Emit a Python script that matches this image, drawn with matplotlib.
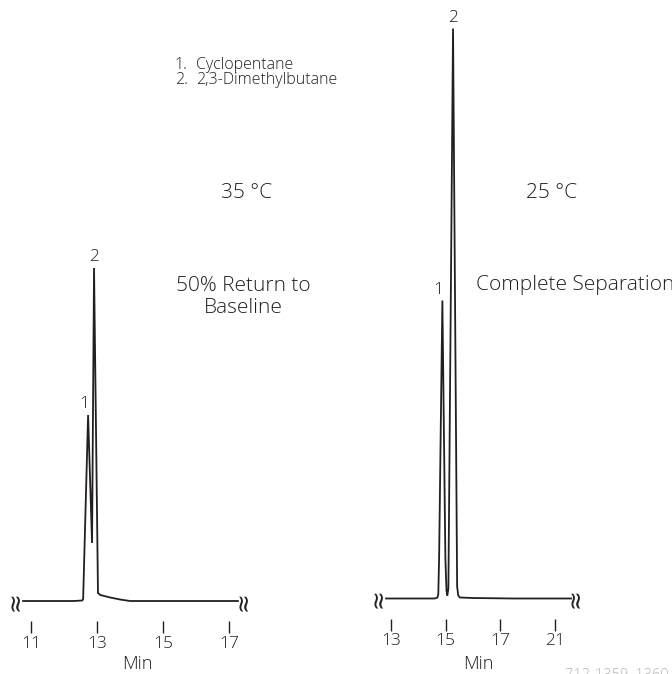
import numpy as np
import matplotlib.pyplot as plt

plt.rcParams['font.family'] = ['Open Sans', 'DejaVu Sans']
plt.rcParams['font.weight'] = 'light'

W, H = 672, 674

# 35 °C run: retention time (min) and detector response
t35 = [10.76, 12.30, 12.55, 12.58, 12.73, 12.85, 12.91, 13.03, 13.10, 13.40, 13.70, 14.00, 15.50, 17.27]
r35 = [0, 0, 0.5, 2, 186, 58, 333, 8, 6, 3.5, 1.5, 0, 0, 0]
ticks35 = [11, 13, 15, 17]
labels35 = ['11', '13', '15', '17']
peaks35 = [(12.73, 186, '1'), (12.91, 333, '2')]

# 25 °C run
t25 = [12.82, 14.60, 14.70, 14.73, 14.76, 14.88, 14.99, 15.03, 15.06, 15.10, 15.27, 15.42, 15.46, 15.52, 16.00, 17.50, 19.59]
r25 = [0, 0, 1, 4, 40, 298, 40, 8, 3, 10, 570, 12, 3, 1, 0.5, 0, 0]
ticks25 = [13, 15, 17, 19]
labels25 = ['13', '15', '17', '21']
peaks25 = [(14.88, 298, '1'), (15.27, 570, '2')]

INK = '#231f20'

fig = plt.figure(figsize=(W / 100, H / 100), dpi=100)


def make_axes(px0, px1, t_at, px_per_min, base_px):
    # axes spanning full figure height, one response unit per pixel
    ax = fig.add_axes([px0 / W, 0, (px1 - px0) / W, 1])
    t0, x0 = t_at
    ax.set_xlim(t0 + (px0 - x0) / px_per_min, t0 + (px1 - x0) / px_per_min)
    ax.set_ylim(base_px - H, base_px)
    ax.patch.set_visible(False)
    for s in ['left', 'right', 'top']:
        ax.spines[s].set_visible(False)
    ax.spines['bottom'].set_position(('data', -20))
    ax.spines['bottom'].set_visible(False)
    ax.set_yticks([])
    ax.tick_params(axis='x', direction='out', length=8.6, width=1.0,
                   color=INK, labelcolor=INK, labelsize=12.5, pad=2)
    return ax


def draw_run(ax, t, r, ticks, labels, peaks, brk):
    ax.plot(t, r, color=INK, lw=1.3, solid_joinstyle='miter')
    ax.set_xticks(ticks, labels)
    # axis break marks at both ends of the baseline
    for tb in brk:
        ax.text(tb, 0, '≈', rotation=90, ha='center', va='center',
                fontsize=17, color=INK, family=['DejaVu Sans'],
                fontweight='normal')
    for tp, rp, lab in peaks:
        ax.annotate(lab, (tp, rp), xytext=(-3 if lab == '1' else 0, 2),
                    textcoords='offset points', ha='center', va='bottom',
                    fontsize=12.5, color=INK)


ax1 = make_axes(0, 270, (11, 31), 33.0, 601)
draw_run(ax1, t35, r35, ticks35, labels35, peaks35, [10.52, 17.42])

ax2 = make_axes(360, 600, (13, 391), 27.33, 598.5)
draw_run(ax2, t25, r25, ticks25, labels25, peaks25, [12.52, 19.73])


def ftext(x, y, s, **kw):
    kw.setdefault('color', INK)
    kw.setdefault('fontsize', 15)
    fig.text(x / W, 1 - y / H, s, **kw)


ftext(137, 664, 'Min', ha='center', va='center', fontsize=13)
ftext(478, 664, 'Min', ha='center', va='center', fontsize=13)

ftext(175, 65, '1.', ha='left', va='center', fontsize=11.5)
ftext(196, 65, 'Cyclopentane', ha='left', va='center', fontsize=11.5)
ftext(175, 80, '2.', ha='left', va='center', fontsize=11.5)
ftext(196, 80, '2,3-Dimethylbutane', ha='left', va='center', fontsize=11.5)

ftext(247, 193, '35 °C', ha='center', va='center')
ftext(243, 297, '50% Return to\nBaseline', ha='center', va='center', linespacing=1.1)
ftext(552, 193, '25 °C', ha='center', va='center')
ftext(476, 285, 'Complete Separation', ha='left', va='center')

ftext(565, 668, '712-1359, 1360', ha='left', va='top', fontsize=10.5, color='#b5b5b5')

fig.savefig('out.png', dpi=100)
